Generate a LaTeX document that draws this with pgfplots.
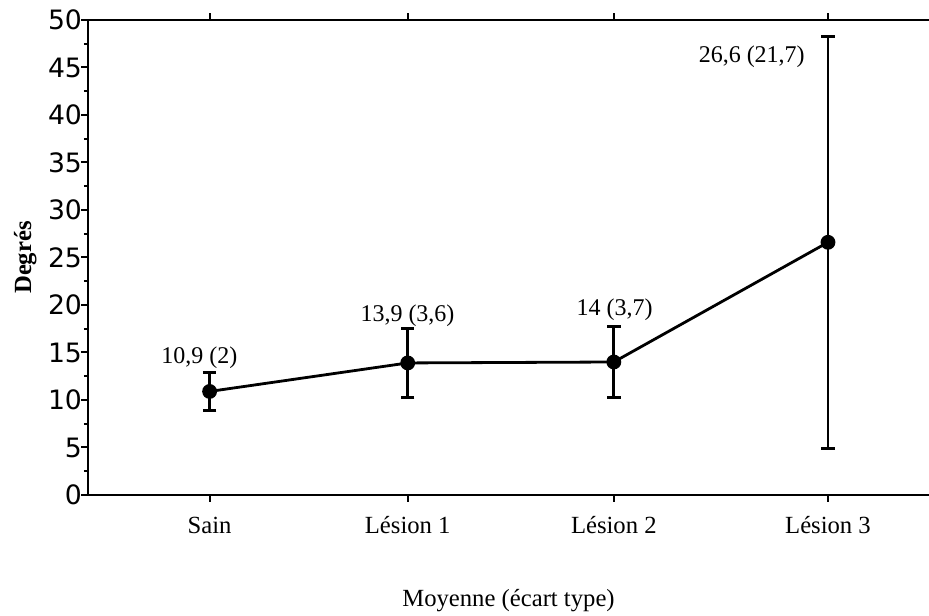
\documentclass[border=0pt]{standalone}
\usepackage{fontspec}
\setmainfont{Liberation Serif}
\newfontfamily\tickfont{DejaVu Sans}
\usepackage{pgfplots}
\pgfplotsset{compat=1.18}

% moyenne et ecart type par groupe (x = position)
\pgfplotstableread{
x      m     sd
0      10.9  2.0
0.961  13.9  3.6
1.961  14.0  3.7
3      26.6  21.7
}\degres

\begin{document}
\begin{tikzpicture}
\begin{axis}[
    width=630.75pt, height=356.25pt,
    scale only axis,
    axis x line*=box,
    axis y line*=left,
    axis line style={line width=2pt},
    xmin=-0.59, xmax=3.49,
    ymin=0, ymax=50,
    xtick={0,0.961,1.961,3},
    xticklabels={Sain, Lésion 1, Lésion 2, Lésion 3},
    xticklabel style={font=\fontsize{18.5}{20}\selectfont, anchor=base, yshift=-24pt},
    ytick={0,5,...,50},
    minor y tick num=1,
    yticklabel style={font=\tickfont\fontsize{20}{22}\selectfont, xshift=4pt},
    /pgf/number format/assume math mode=true,
    tick align=outside,
    major tick length=5pt,
    minor tick length=3pt,
    tick style={line width=1.5pt, black},
    xlabel={Moyenne (écart type)},
    xlabel style={font=\fontsize{18.5}{20}\selectfont, at={(rel axis cs:0.5,0)}, anchor=center, yshift=-79pt},
    ylabel={\textbf{Degrés}},
    ylabel style={font=\fontsize{18.5}{20}\selectfont, at={(rel axis cs:0,0.5)}, anchor=center, yshift=47pt},
    clip=false,
]
\addplot[black, line width=2.1pt, mark=*, mark size=4.5pt,
    error bars/.cd, y dir=both, y explicit,
    error bar style={line width=2.1pt},
    error mark options={rotate=90, mark size=5pt, line width=2.1pt}]
    table[x=x, y=m, y error=sd] {\degres};

\node[font=\fontsize{18}{20}\selectfont] at (axis cs:-0.05,14.5) {10,9 (2)};
\node[font=\fontsize{18}{20}\selectfont] at (axis cs:0.96,18.9) {13,9 (3,6)};
\node[font=\fontsize{18}{20}\selectfont] at (axis cs:1.965,19.5) {14 (3,7)};
\node[font=\fontsize{18}{20}\selectfont, anchor=east] at (axis cs:2.91,46.1) {26,6 (21,7)};
\end{axis}
\pgfresetboundingbox
\path[use as bounding box] ([xshift=-66pt,yshift=-90.75pt]current axis.south west)
    rectangle ([yshift=15pt]current axis.north east);
\end{tikzpicture}
\end{document}
